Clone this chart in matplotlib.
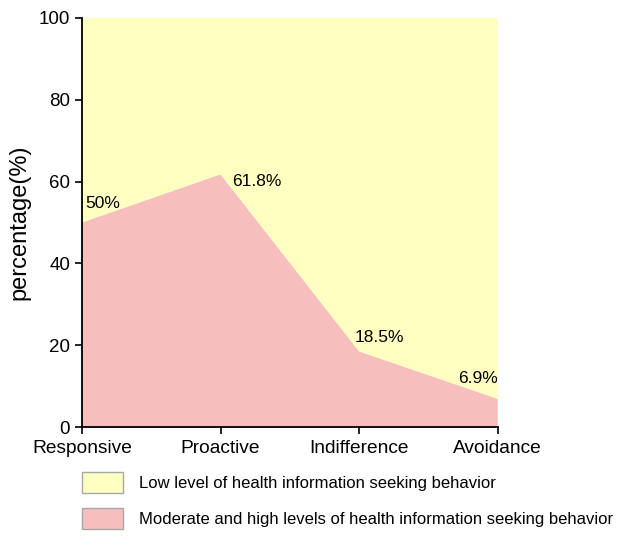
import matplotlib
matplotlib.use("Agg")
import matplotlib.pyplot as plt
from matplotlib.patches import Patch

plt.rcParams["font.family"] = ["Liberation Sans", "DejaVu Sans"]

categories = ["Responsive", "Proactive", "Indifference", "Avoidance"]
moderate_high = [50, 61.8, 18.5, 6.9]
low_level = [50, 38.2, 81.5, 93.1]
point_labels = ["50%", "61.8%", "18.5%", "6.9%"]

PINK = "#f6bfbd"
YELLOW = "#ffffc2"

fig = plt.figure(figsize=(6.30, 5.43), dpi=100)
ax = fig.add_axes([0.130, 0.2136, 0.660, 0.7533])

x = list(range(len(categories)))
ax.stackplot(x, moderate_high, low_level, colors=[PINK, YELLOW], linewidth=0)

# label offsets in pixels from each vertex (dx, dy, ha)
offsets = [(3, 19, "left"), (12, -7, "left"), (-4, 14, "left"), (0, 20, "right")]
for xi, v, lab, (dx, dy, ha) in zip(x, moderate_high, point_labels, offsets):
    ax.annotate(lab, (xi, v), xytext=(dx, dy), textcoords="offset pixels",
                ha=ha, va="center", fontsize=12.5)

ax.set_xlim(0, len(categories) - 1)
ax.set_ylim(0, 100)
ax.set_xticks(x)
ax.set_xticklabels(categories, fontsize=13.8)
ax.set_yticks([0, 20, 40, 60, 80, 100])
ax.tick_params(axis="y", labelsize=13.5, length=5, width=1.2)
ax.tick_params(axis="x", length=5, width=1.2, pad=4)
ax.set_ylabel("percentage(%)", fontsize=17, labelpad=6)

for side in ["top", "right"]:
    ax.spines[side].set_visible(False)
for side in ["left", "bottom"]:
    ax.spines[side].set_linewidth(1.3)

handles = [Patch(facecolor=YELLOW, edgecolor="#a8a8a8", linewidth=1),
           Patch(facecolor=PINK, edgecolor="#a8a8a8", linewidth=1)]
labels = ["Low level of health information seeking behavior",
          "Moderate and high levels of health information seeking behavior"]
fig.legend(handles, labels, loc="upper left", bbox_to_anchor=(0.120, 0.143),
           frameon=False, fontsize=12, handlelength=2.45, handleheight=1.6,
           handletextpad=0.95, labelspacing=0.85, borderaxespad=0)

fig.savefig("out.png", dpi=100)
